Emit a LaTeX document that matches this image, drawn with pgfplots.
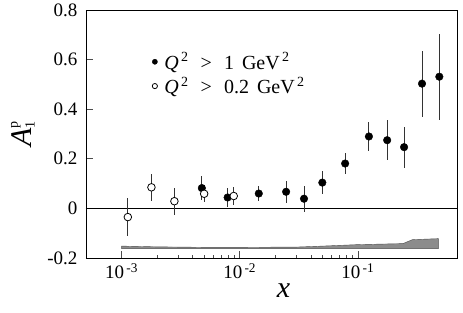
\documentclass[border=0pt]{standalone}
\usepackage{fontspec}
\setmainfont{Liberation Serif}
\usepackage{pgfplots}
\pgfplotsset{compat=1.18}
\begin{document}
\begin{tikzpicture}
\useasboundingbox (-86pt,-55pt) rectangle (377pt,258pt);
\begin{axis}[
  scale only axis, width=371pt, height=248pt,
  at={(0,0)}, anchor=south west,
  xmode=log, xmin=5e-4, xmax=0.69,
  ymin=-0.2, ymax=0.8,
  xtick={1e-3,1e-2,1e-1},
  xticklabels={10\textsuperscript{\,-3},10\textsuperscript{\,-2},10\textsuperscript{\,-1}},
  ytick={-0.2,0,0.2,0.4,0.6,0.8},
  yticklabels={-0.2,0,0.2,0.4,0.6,0.8},
  tick pos=left,
  major tick length=7pt, minor tick length=3.5pt,
  tick style={black!70, line width=0.6pt},
  axis line style={line width=0.8pt},
  ticklabel style={font=\fontsize{19}{19}\selectfont},
  xticklabel style={yshift=-2pt},
  yticklabel style={xshift=-5pt},
  /pgf/number format/assume math mode=true,
  xlabel={\fontsize{30}{30}\selectfont\textit{x}},
  xlabel style={yshift=2pt, xshift=12pt},
  ylabel={\fontsize{30}{30}\selectfont\textit{A}\raisebox{14pt}{\fontsize{14}{14}\selectfont p}\hspace{-7pt}\raisebox{-3pt}{\fontsize{14}{14}\selectfont 1}},
  ylabel style={yshift=6pt},
  legend style={at={(0.17,0.845)}, anchor=north west, draw=none, fill=none,
    font=\fontsize{20}{20}\selectfont, row sep=2pt},
  legend image post style={mark size=2.6pt},
  legend cell align=left,
]
\addplot[fill=black!45, draw=black!70, line width=0.4pt, forget plot] coordinates {
 (1e-3,-0.152) (2e-3,-0.155) (5e-3,-0.157) (1e-2,-0.157) (3e-2,-0.156)
 (5e-2,-0.152) (0.1,-0.146) (0.24,-0.142) (0.29,-0.126) (0.48,-0.122)
 (0.48,-0.1625) (0.1,-0.1625) (1e-2,-0.1625) (1e-3,-0.162)
} -- cycle;
\addplot[black, line width=0.6pt, forget plot] coordinates {(5e-4,0) (0.69,0)};
\addplot[only marks, mark=*, mark size=3.8pt, mark options={fill=black},
  error bars/.cd, y dir=both, y explicit, error mark=none,
  error bar style={line width=1pt, black!80}]
 coordinates {
 (4.78e-3,0.082) +- (0,0.048)
 (7.9e-3,0.044) +- (0,0.038)
 (1.45e-2,0.060) +- (0,0.032)
 (2.47e-2,0.067) +- (0,0.044)
 (3.5e-2,0.039) +- (0,0.053)
 (5.0e-2,0.104) +- (0,0.046)
 (7.8e-2,0.181) +- (0,0.044)
 (0.124,0.290) +- (0,0.058)
 (0.177,0.275) +- (0,0.080)
 (0.246,0.247) +- (0,0.083)
 (0.349,0.503) +- (0,0.133)
 (0.489,0.531) +- (0,0.173)
};
\addlegendentry{\hspace{5pt}\textit{Q}\textsuperscript{\,2}\hspace{0.6em}>\hspace{0.6em}1\hspace{0.4em}GeV\textsuperscript{\,2}}
\addplot[only marks, mark=*, mark size=3.8pt, mark options={fill=white, draw=black, line width=0.8pt},
  error bars/.cd, y dir=both, y explicit, error mark=none,
  error bar style={line width=1pt, black!80}]
 coordinates {
 (1.13e-3,-0.035) +- (0,0.075)
 (1.79e-3,0.085) +- (0,0.055)
 (2.8e-3,0.029) +- (0,0.054)
 (5.0e-3,0.059) +- (0,0.035)
 (8.9e-3,0.050) +- (0,0.036)
};
\addlegendentry{\hspace{5pt}\textit{Q}\textsuperscript{\,2}\hspace{0.6em}>\hspace{0.6em}0.2\hspace{0.4em}GeV\textsuperscript{\,2}}
\end{axis}
\end{tikzpicture}
\end{document}
